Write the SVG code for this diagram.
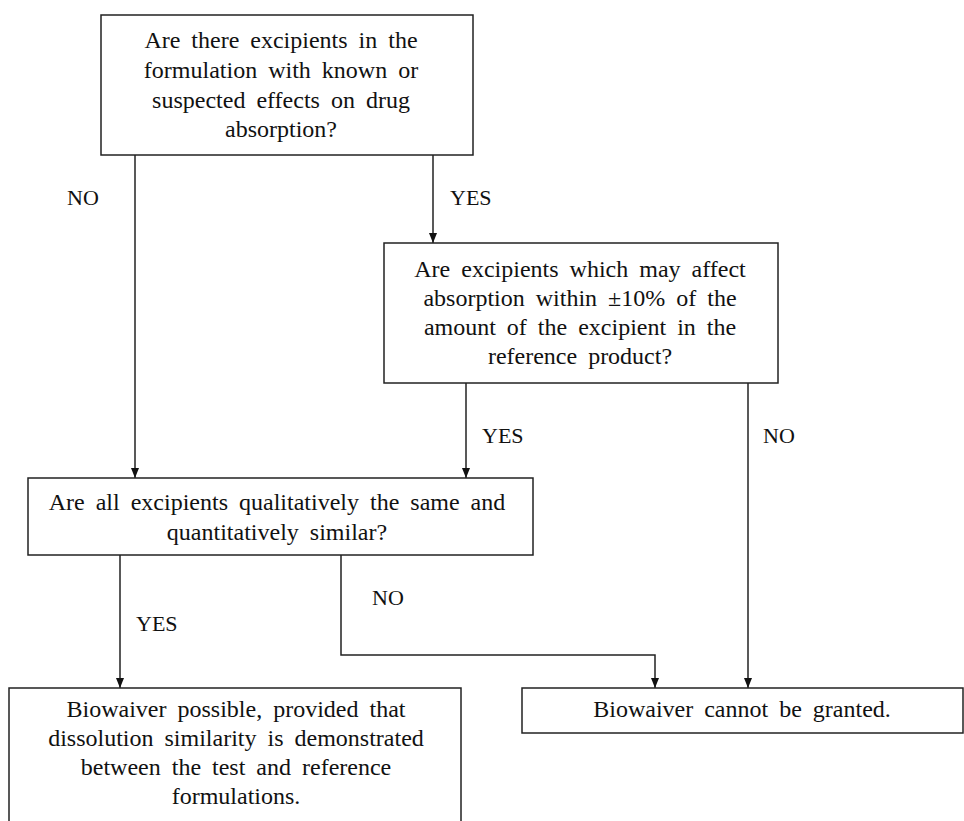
<svg xmlns="http://www.w3.org/2000/svg" width="964" height="821" viewBox="0 0 964 821">
<style>
.box{fill:#fff;stroke:#222;stroke-width:1.5}
.t{font-family:"Liberation Serif","Times New Roman",serif;font-size:24px;fill:#111;text-anchor:middle;word-spacing:5px}
.l{font-family:"Liberation Serif","Times New Roman",serif;font-size:22px;fill:#111}
.c{fill:none;stroke:#222;stroke-width:1.5}
</style>
<defs>
<marker id="ah" markerWidth="10" markerHeight="10" refX="10" refY="5" orient="auto" markerUnits="userSpaceOnUse">
<path d="M0,1 L10,5 L0,9 Z" fill="#111"/>
</marker>
</defs>
<rect width="964" height="821" fill="#fff"/>
<g id="connectors">
<line class="c" x1="135" y1="155" x2="135" y2="478" marker-end="url(#ah)"/>
<line class="c" x1="433" y1="155" x2="433" y2="243" marker-end="url(#ah)"/>
<line class="c" x1="466" y1="383" x2="466" y2="478" marker-end="url(#ah)"/>
<line class="c" x1="748" y1="383" x2="748" y2="688" marker-end="url(#ah)"/>
<line class="c" x1="120" y1="555" x2="120" y2="688" marker-end="url(#ah)"/>
<polyline class="c" points="341,555 341,655 655,655 655,688" marker-end="url(#ah)"/>
<text class="l" x="67" y="205">NO</text>
<text class="l" x="450" y="205">YES</text>
<text class="l" x="482" y="443">YES</text>
<text class="l" x="763" y="443">NO</text>
<text class="l" x="136" y="631">YES</text>
<text class="l" x="372" y="605">NO</text>
</g>
<g id="n1">
<rect class="box" x="101" y="15" width="372" height="140"/>
<text class="t" x="281" y="48">Are there excipients in the</text>
<text class="t" x="281" y="78">formulation with known or</text>
<text class="t" x="281" y="108">suspected effects on drug</text>
<text class="t" x="281" y="137">absorption?</text>
</g>
<g id="n2">
<rect class="box" x="384" y="243" width="394" height="140"/>
<text class="t" x="580" y="277">Are excipients which may affect</text>
<text class="t" x="580" y="306">absorption within ±10% of the</text>
<text class="t" x="580" y="335">amount of the excipient in the</text>
<text class="t" x="580" y="364">reference product?</text>
</g>
<g id="n3">
<rect class="box" x="28" y="478" width="505" height="77"/>
<text class="t" x="277" y="510">Are all excipients qualitatively the same and</text>
<text class="t" x="277" y="540">quantitatively similar?</text>
</g>
<g id="n4">
<rect class="box" x="9" y="688" width="452" height="150"/>
<text class="t" x="236" y="717">Biowaiver possible, provided that</text>
<text class="t" x="236" y="746">dissolution similarity is demonstrated</text>
<text class="t" x="236" y="775">between the test and reference</text>
<text class="t" x="236" y="804">formulations.</text>
</g>
<g id="n5">
<rect class="box" x="522" y="688" width="441" height="45"/>
<text class="t" x="742" y="717">Biowaiver cannot be granted.</text>
</g>
</svg>
